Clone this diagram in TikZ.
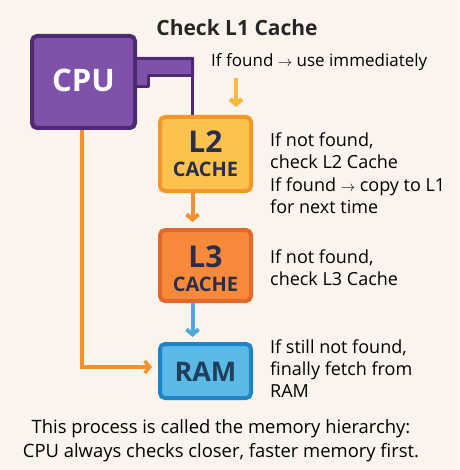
\documentclass[tikz,border=0pt]{standalone}
\usepackage{fontspec}
\setmainfont{Open Sans}
\usetikzlibrary{arrows.meta}

\definecolor{bgcream}{RGB}{251,244,236}
\definecolor{cpufill}{RGB}{126,82,170}
\definecolor{cpuline}{RGB}{78,42,110}
\definecolor{ltwofill}{RGB}{252,194,78}
\definecolor{ltwoline}{RGB}{242,152,42}
\definecolor{lthreefill}{RGB}{247,137,59}
\definecolor{lthreeline}{RGB}{226,105,42}
\definecolor{ramfill}{RGB}{90,185,230}
\definecolor{ramline}{RGB}{31,132,196}
\definecolor{navytext}{RGB}{43,45,79}
\definecolor{ramtext}{RGB}{31,63,90}
\definecolor{yellowarr}{RGB}{246,186,63}
\definecolor{orangearr}{RGB}{244,145,46}
\definecolor{bluearr}{RGB}{79,168,221}

\newcommand{\thinarrow}{{\fontsize{15}{15}\selectfont$\rightarrow$}}

\tikzset{
  memblock/.style={draw, line width=4pt, rounded corners=5pt, inner sep=0pt},
  flowarrow/.style={line width=4pt, -{Straight Barb[length=5pt,width=12pt]}},
  sidetext/.style={anchor=base west, inner sep=0pt, align=left, font=\fontsize{18}{22}\selectfont},
  bigtext/.style={anchor=base, inner sep=0pt, font=\fontsize{30}{30}\selectfont\bfseries},
  smalltext/.style={anchor=base, inner sep=0pt, font=\fontsize{20}{20}\selectfont\bfseries, text=navytext}
}

\begin{document}
\begin{tikzpicture}[x=1pt,y=1pt,yscale=-1,xscale=1]
        % background and page size
        \fill [bgcream] (0,0) rectangle (459,470);
        \useasboundingbox (0,0) rectangle (459,470);

        % CPU tab towards L1
        \fill [cpufill] (131,57) -- (194,57) -- (194,77) -- (147,77) -- (147,88) -- (131,88) -- cycle;
        \draw [cpuline, line width=3pt, line join=round] (137,58.5) -- (192.5,58.5) -- (192.5,75.5) -- (148.5,75.5) -- (148.5,86.5) -- (137,86.5);
        \coordinate (tabend) at (192.5,75.5);

        % Boxes
        \node [memblock, fill=cpufill, draw=cpuline, minimum width=103pt, minimum height=92pt] (cpu) at (83.5,82) {};
        \node [memblock, fill=ltwofill, draw=ltwoline, minimum width=91pt, minimum height=74pt] (ltwo) at (205.5,154) {};
        \node [memblock, fill=lthreefill, draw=lthreeline, minimum width=91pt, minimum height=71pt] (lthree) at (205.5,265.5) {};
        \node [memblock, fill=ramfill, draw=ramline, minimum width=91pt, minimum height=54pt] (ram) at (205.5,371) {};

        \draw [cpuline, line width=2.5pt] (tabend) -- (tabend |- ltwo.north);

        % Box texts
        \node [bigtext, text=white, font=\fontsize{31}{31}\selectfont\bfseries] (cputxt) at (83.5,92) {CPU};
        \node [bigtext, text=navytext] (ltwotxt) at (205.5,153) {L2};
        \node [smalltext] (ltwocache) at (205.5,177) {CACHE};
        \node [bigtext, text=navytext] (lthreetxt) at (205.5,267) {L3};
        \node [smalltext] (lthreecache) at (205.5,291) {CACHE};
        \node [bigtext, text=ramtext, font=\fontsize{27}{27}\selectfont\bfseries] (ramtxt) at (205.5,381) {RAM};

        % Title and notes (base = last line)
        \node [anchor=base, inner sep=0pt, font=\fontsize{21}{21}\selectfont\bfseries, text=black!85] (title) at (237,36) {Check L1 Cache};
        \node [sidetext, font=\fontsize{17}{20}\selectfont] (usetxt) at (211,67) {If found \thinarrow{} use immediately};
        \node [sidetext] (ltwonote) at (270,169) {If not found,\\check L2 Cache};
        \node [sidetext] (ltwocopy) at (270,213) {If found \thinarrow{} copy to L1\\for next time};
        \node [sidetext] (lthreenote) at (270,285) {If not found,\\check L3 Cache};
        \node [sidetext] (ramnote) at (270,397) {If still not found,\\finally fetch from\\RAM};
        \node [anchor=base, inner sep=0pt, align=center, font=\fontsize{18.4}{24}\selectfont] (summary) at (221,457) {This process is called the memory hierarchy:\\CPU always checks closer, faster memory first.};

        % Arrows
        \coordinate (found) at (236,78);
        \draw [flowarrow, yellowarr, line width=4.5pt, shorten >=8pt] (found) -- (found |- ltwo.north);
        \draw [flowarrow, orangearr, shorten >=6pt] (ltwo.south -| tabend) -- (lthree.north -| tabend);
        \draw [flowarrow, bluearr, shorten >=5pt] (lthree.south -| tabend) -- (ram.north -| tabend);
        \coordinate (bend) at (82,367);
        \draw [flowarrow, orangearr, line width=3.5pt, shorten >=6pt] (cpu.south -| bend) -- (bend) -- (bend -| ram.west);

\end{tikzpicture}
\end{document}
